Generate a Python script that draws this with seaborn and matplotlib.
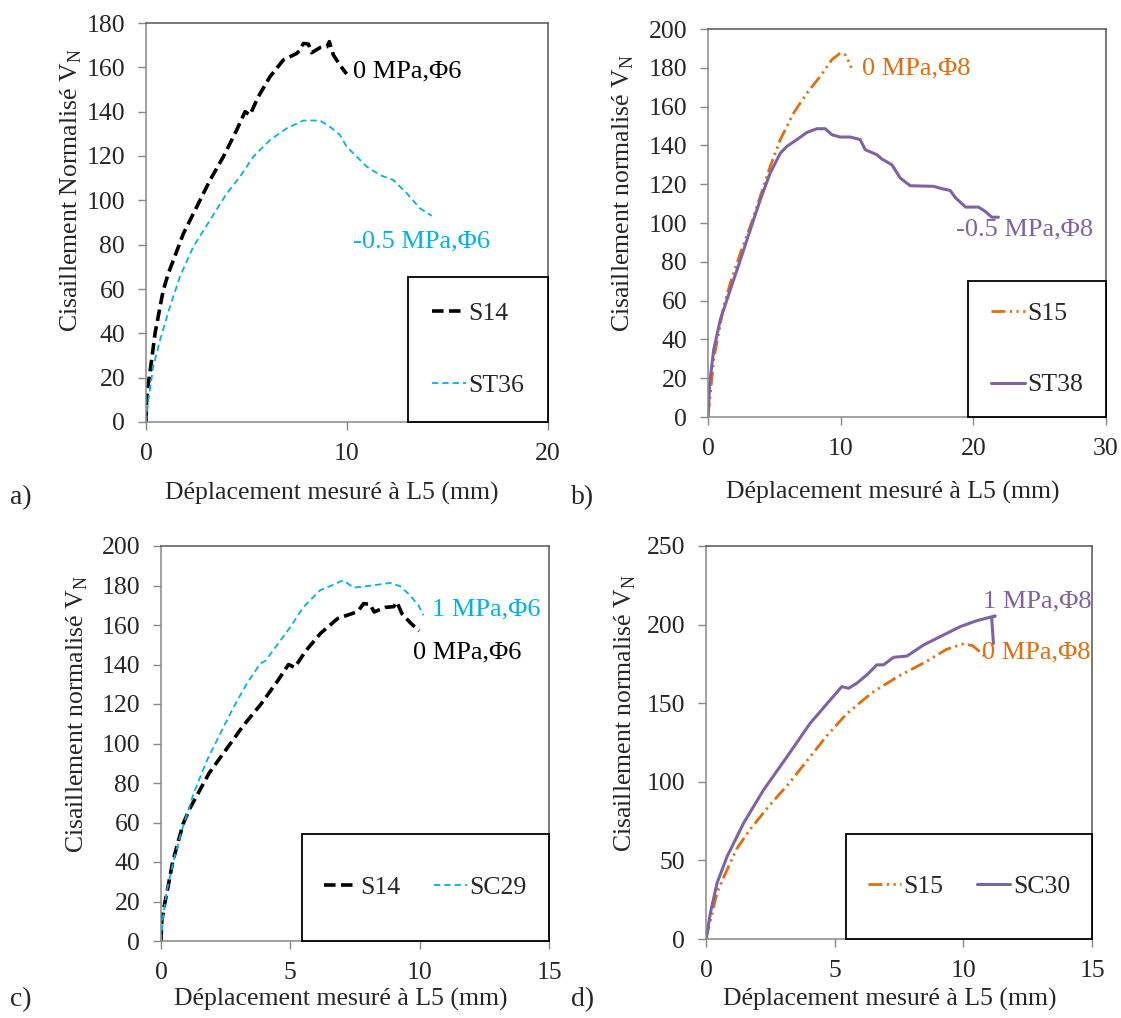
import numpy as np
import pandas as pd
import seaborn as sns
import matplotlib.pyplot as plt
from matplotlib.patches import Rectangle

# curves (displacement mm, normalised shear)
s14_x = [0, 0.03, 0.12, 0.28, 0.45, 0.70, 0.86, 1.11, 1.36, 1.86, 2.52, 3.18, 3.85, 4.18,
         4.51, 4.93, 5.17, 5.59, 6.17, 6.83, 7.5, 7.66, 7.83, 8.08, 8.24, 8.66, 9.0, 9.12,
         9.32, 9.65, 9.98]
s14_y = [0, 9.9, 17.4, 28, 40, 52, 59.5, 67, 73, 85, 97, 109, 119.7, 125.7,
         131.7, 140, 138.5, 146.8, 155.8, 163.3, 166.3, 167.8, 170.8, 170.5, 166.6, 168.9, 169.3, 171.6,
         165.6, 161, 157]

st36_x = [0, 0.12, 0.36, 0.70, 1.19, 1.69, 2.35, 3.18, 4.01, 4.68, 5.34, 6.17, 7.0, 7.83,
          8.66, 9.15, 9.65, 9.98, 10.48, 10.98, 11.64, 12.3, 12.97, 13.63, 14.21]
st36_y = [0, 9.9, 25, 37, 52, 65.6, 79, 91, 103, 110.7, 119.7, 127.2, 132.5, 136,
          136, 133.2, 129.5, 124.2, 119.7, 115.2, 111.4, 109.2, 103.2, 96.4, 93]

s15_x = [0, 0.18, 0.43, 0.8, 1.18, 1.68, 2.44, 3.19, 3.94, 4.69, 5.45, 6.45, 7.46, 8.46,
         9.34, 9.97, 10.34, 10.6, 10.8]
s15_y = [0, 12.4, 29.6, 43.3, 57, 69, 84.5, 98.3, 113.7, 129.2, 143, 156.7, 167, 175.6,
         184.2, 187.6, 186.8, 183.3, 180]

st38_x = [0, 0.13, 0.43, 0.93, 1.68, 2.44, 3.19, 3.94, 4.69, 5.45, 5.95, 6.7, 7.46, 8.21,
          8.84, 9.34, 9.97, 10.72, 11.47, 11.85, 12.73, 13.1, 13.86, 14.49, 15.24, 17.0,
          17.75, 18.25, 18.67, 19.42, 20.39, 20.89, 21.39, 21.89]
st38_y = [0, 17.5, 34.7, 50.2, 65.6, 81, 96.6, 112, 125.8, 136, 139.5, 143, 146.7, 148.6,
          148.6, 145.5, 144.3, 144.3, 143, 137.8, 135.2, 133, 130, 123.2, 119.2, 118.9,
          117.5, 116.8, 112.9, 108.2, 108.2, 106, 103, 103]

sc29_x = [0, 0.08, 0.23, 0.49, 0.81, 1.26, 1.78, 2.29, 2.81, 3.32, 3.84, 4.03, 4.48, 5.0,
          5.51, 6.15, 6.67, 7.03, 7.19, 7.44, 8.22, 8.86, 9.25, 9.63, 9.95, 10.15]
sc29_y = [0, 12.3, 25.8, 41, 56.2, 74.7, 91.6, 105, 118.5, 130.4, 140.5, 141.8, 149.7, 159,
          169.1, 177.6, 180.4, 182.6, 181.3, 178.9, 180.1, 181.3, 179.6, 175, 170, 164.9]

sc30_x = [0, 0.17, 0.43, 0.82, 1.46, 2.24, 3.15, 4.05, 4.83, 5.28, 5.54, 5.86, 6.25, 6.64,
          6.9, 7.29, 7.81, 8.45, 9.23, 9.88, 10.52, 11.24, 11.1, 11.17]
sc30_y = [0, 16.5, 35.6, 52.5, 73.7, 94.9, 116, 137.3, 152.1, 160.6, 159.5, 162.7, 168, 174.4,
          174.4, 179.2, 180, 187, 193.4, 198.7, 202.5, 205.5, 204.5, 188]

BLACK = "#000000"
BLUE = "#00b0f0"
ORANGE = "#e46c0a"
PURPLE = "#7f62a6"

sns.set_style("ticks")
plt.rcParams['font.family'] = ['Liberation Serif', 'DejaVu Serif']
plt.rcParams['mathtext.fontset'] = 'custom'
plt.rcParams['mathtext.rm'] = 'Liberation Serif'
FS = 18.5

styles = {
    'S14': dict(color=BLACK, lw=2.6, ls=(0, (3.2, 1.5))),
    'ST36': dict(color=BLUE, lw=1.3, ls=(0, (3.5, 2.2))),
    'SC29': dict(color=BLUE, lw=1.3, ls=(0, (3.5, 2.2))),
    'S15': dict(color=ORANGE, lw=2.0, ls=(0, (5, 1.6, 0.8, 1.6, 0.8, 1.6))),
    'ST38': dict(color=PURPLE, lw=2.2, ls='-'),
    'SC30': dict(color=PURPLE, lw=2.2, ls='-'),
}
series = {
    'S14': (s14_x, s14_y), 'ST36': (st36_x, st36_y), 'S15': (s15_x, s15_y),
    'ST38': (st38_x, st38_y), 'SC29': (sc29_x, sc29_y), 'SC30': (sc30_x, sc30_y),
}

fig = plt.figure(figsize=(11.21, 10.18), dpi=100)
W, H = 1121, 1018


def make_ax(l, t, r, b):
    # pixel box -> figure fraction
    return fig.add_axes([l / W, 1 - b / H, (r - l) / W, (b - t) / H])


def draw(ax, names, xmax, xstep, ymax, ystep, ylab, xlab_pos, ylab_pos, leg_box, ncol):
    for n in names:
        x, y = series[n]
        st = styles[n]
        df = pd.DataFrame({'x': x, 'y': y})
        sns.lineplot(data=df, x='x', y='y', ax=ax, color=st['color'], linewidth=st['lw'],
                     linestyle=st['ls'], estimator=None, sort=False, label=n, legend=False)
    ax.set_xlim(0, xmax)
    ax.set_ylim(0, ymax)
    ax.set_xticks(np.arange(0, xmax + 0.1, xstep))
    ax.set_yticks(np.arange(0, ymax + 0.1, ystep))
    ax.tick_params(direction='out', length=6, width=1, color='#888888', labelsize=FS, pad=9)
    for s in ['left', 'bottom']:
        ax.spines[s].set_color('#888888')
    for s in ['top', 'right']:
        ax.spines[s].set_color('#555555')
    for s in ax.spines.values():
        s.set_linewidth(1.1)
    ax.set_xlabel('Déplacement mesuré à L5 (mm)', fontsize=FS)
    ax.set_ylabel(ylab, fontsize=FS)
    ax.xaxis.set_label_coords(*xlab_pos)
    ax.yaxis.set_label_coords(*ylab_pos)
    ax.xaxis.label.set_va('center')
    ax.yaxis.label.set_va('center')
    # legend box like the Excel original
    x0, w, h = leg_box
    ax.add_patch(Rectangle((x0, 0), w, h, transform=ax.transAxes, facecolor='white',
                           edgecolor='black', lw=1.3, zorder=5, clip_on=False))
    handles, labels = ax.get_legend_handles_labels()
    if ncol == 1:
        leg = ax.legend(handles, labels, loc='center', bbox_to_anchor=(x0 + w / 2, h / 2),
                        frameon=False, fontsize=FS, labelspacing=1.9, handlelength=1.3,
                        handletextpad=0.1)
    else:
        leg = ax.legend(handles, labels, loc='center', bbox_to_anchor=(x0 + w / 2, h / 2),
                        frameon=False, fontsize=FS, ncol=2, handlelength=1.3,
                        handletextpad=0.1, columnspacing=1.3)
    leg.set_zorder(6)


ylab_a = r'Cisaillement Normalisé V$_{\mathrm{N}}$'
ylab_b = r'Cisaillement normalisé V$_{\mathrm{N}}$'

ax_a = make_ax(146, 23, 548, 422)
draw(ax_a, ['S14', 'ST36'], 20, 10, 180, 20, ylab_a, (0.463, -0.178), (-0.187, 0.58),
     (0.652, 0.348, 0.363), 1)
ax_a.text(10.3, 158, '0 MPa,Φ6', color=BLACK, fontsize=19, va='center')
ax_a.text(10.3, 81.5, '-0.5 MPa,Φ6', color=BLUE, fontsize=19, va='center')

ax_b = make_ax(708, 29, 1106, 417)
draw(ax_b, ['S15', 'ST38'], 30, 10, 200, 20, ylab_b, (0.463, -0.195), (-0.213, 0.578),
     (0.654, 0.346, 0.35), 1)
ax_b.text(11.6, 179.5, '0 MPa,Φ8', color=ORANGE, fontsize=19, va='center')
ax_b.text(18.7, 96.5, '-0.5 MPa,Φ8', color=PURPLE, fontsize=19, va='center')

ax_c = make_ax(161, 546, 549, 941)
draw(ax_c, ['S14', 'SC29'], 15, 5, 200, 20, ylab_b, (0.462, -0.149), (-0.216, 0.574),
     (0.364, 0.636, 0.271), 2)
ax_c.text(10.47, 168, '1 MPa,Φ6', color=BLUE, fontsize=19, va='center')
ax_c.text(9.75, 146.2, '0 MPa,Φ6', color=BLACK, fontsize=19, va='center')

ax_d = make_ax(706, 546, 1092, 939)
draw(ax_d, ['S15', 'SC30'], 15, 5, 250, 50, ylab_b, (0.477, -0.155), (-0.209, 0.575),
     (0.362, 0.638, 0.267), 2)
ax_d.text(10.76, 214.6, '1 MPa,Φ8', color=PURPLE, fontsize=19, va='center')
ax_d.text(10.72, 182, '0 MPa,Φ8', color=ORANGE, fontsize=19, va='center')

for lab, (px, py) in zip(['a)', 'b)', 'c)', 'd)'], [(21, 498), (583, 498), (21, 1000), (583, 1000)]):
    fig.text(px / W, 1 - py / H, lab, fontsize=20, ha='center', va='center')

fig.savefig('out.png', dpi=100)
